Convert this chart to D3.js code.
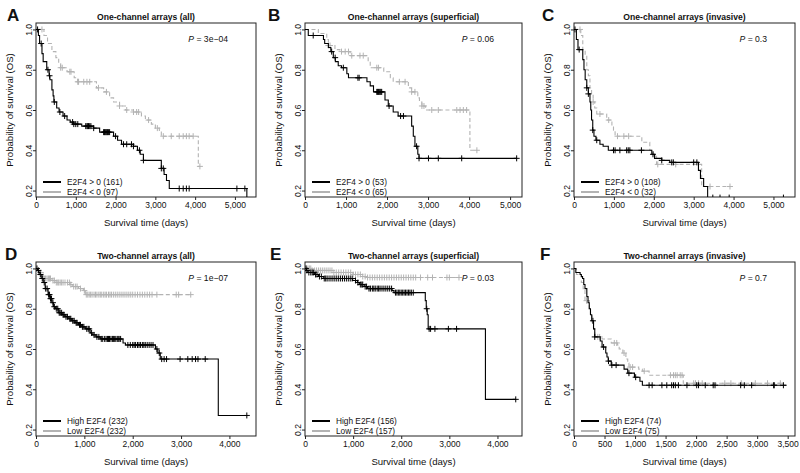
<!DOCTYPE html>
<html><head><meta charset="utf-8">
<script src="https://cdn.jsdelivr.net/npm/d3@7"></script>
<style>body{margin:0;background:#fff} svg{display:block} text{font-family:"Liberation Sans",Arial,Helvetica,sans-serif;fill:#111}</style>
</head><body><svg id="c" width="800" height="473"></svg>
<script>
// ---------------- DATA ----------------
const yTicks = [0.2, 0.4, 0.6, 0.8, 1.0];
const titles = ["One-channel arrays (all)", "One-channel arrays (superficial)", "One-channel arrays (invasive)",
  "Two-channel arrays (all)", "Two-channel arrays (superficial)", "Two-channel arrays (invasive)"];
const letters = ["A", "B", "C", "D", "E", "F"];
const pValues = ["3e\u221204", "0.06", "0.3", "1e\u221207", "0.03", "0.7"];
const xMax = [5530, 5290, 5540, 4550, 4510, 3620];
const xTicksOne = [0, 1000, 2000, 3000, 4000, 5000];
const xTicksTwo = [0, 1000, 2000, 3000, 4000];
const xTicksF = [0, 500, 1000, 1500, 2000, 2500, 3000, 3500];
const legendOne = [["E2F4 > 0 (161)", "E2F4 < 0 (97)"], ["E2F4 > 0 (53)", "E2F4 < 0 (65)"], ["E2F4 > 0 (108)", "E2F4 < 0 (32)"]];
const legendTwo = [["High E2F4 (232)", "Low E2F4 (232)"], ["High E2F4 (156)", "Low E2F4 (157)"], ["High E2F4 (74)", "Low E2F4 (75)"]];

// Kaplan-Meier steps [time (days), survival]; censor times; end time
const aHiSteps = [[0,1],[60,0.97],[90,0.93],[150,0.88],[180,0.84],[270,0.80],[330,0.77],[350,0.75],[400,0.70],[430,0.67],[450,0.64],[520,0.61],[580,0.59],[680,0.57],[780,0.55],[860,0.54],[950,0.53],[1150,0.52],[1450,0.51],[1600,0.49],[1950,0.47],[2050,0.45],[2150,0.43],[2450,0.42],[2550,0.40],[2620,0.38],[2700,0.35],[3150,0.31],[3220,0.28],[3280,0.25],[3350,0.21],[5300,0.0]];
const aHiCens = [40,130,300,340,460,600,720,920,950,1000,1050,1250,1280,1300,1320,1350,1380,1450,1700,1720,1740,1760,1780,1800,1820,1850,2000,2200,2280,2400,2450,2600,2700,3150,3200,3600,3700,3780,3850,5050,5250];
const aLoSteps = [[0,1],[200,0.97],[290,0.93],[400,0.89],[500,0.86],[570,0.83],[620,0.81],[780,0.79],[960,0.76],[1050,0.74],[1520,0.71],[1700,0.69],[1850,0.66],[1950,0.64],[2100,0.62],[2250,0.60],[2450,0.59],[2650,0.57],[2750,0.55],[2900,0.53],[3000,0.51],[3100,0.49],[3150,0.47],[4080,0.32]];
const aLoCens = [150,620,660,850,880,1050,1070,1200,1280,1350,1570,1770,2100,2280,2450,2530,2580,2830,3050,3200,3400,3600,3700,3780,3850,3950,4120];

const bHiSteps = [[0,1],[80,0.97],[450,0.95],[480,0.93],[570,0.91],[630,0.89],[690,0.86],[740,0.84],[810,0.82],[890,0.81],[1020,0.78],[1060,0.76],[1510,0.74],[1590,0.72],[1670,0.69],[1950,0.65],[2030,0.62],[2150,0.59],[2270,0.57],[2600,0.52],[2640,0.47],[2680,0.42],[2750,0.38],[2780,0.36]];
const bHiCens = [200,650,735,935,1290,1320,1750,1770,1790,1810,1830,1850,1870,2050,2330,2400,2720,2780,3010,3250,3820,5160];
const bLoSteps = [[0,1],[325,0.98],[530,0.95],[570,0.92],[730,0.90],[850,0.89],[1100,0.87],[1540,0.84],[1590,0.81],[1920,0.79],[2080,0.76],[2150,0.74],[2520,0.71],[2600,0.69],[2750,0.66],[2790,0.64],[2850,0.62],[2940,0.60],[4020,0.40]];
const bLoCens = [570,610,890,980,1060,1140,1340,1420,1750,1790,2300,2440,2600,2680,2850,2900,3090,3250,3700,3780,3860,3940,4190];

const cHiSteps = [[0,1],[60,0.95],[100,0.90],[220,0.85],[250,0.80],[280,0.75],[320,0.71],[360,0.68],[400,0.64],[420,0.60],[440,0.55],[470,0.50],[500,0.47],[550,0.45],[650,0.43],[730,0.42],[860,0.40],[1950,0.38],[2020,0.36],[2200,0.35],[2400,0.34],[3120,0.30],[3170,0.26],[3250,0.22],[3350,0.165]];
const cHiCens = [25,130,320,360,470,570,990,1030,1150,1320,1360,1400,1690,1980,2200,2450,2490,3000,3080,3480,3660,3890,5250];
const cLoSteps = [[0,1],[170,0.97],[220,0.90],[280,0.87],[320,0.80],[360,0.77],[400,0.71],[440,0.68],[480,0.64],[520,0.61],[570,0.58],[820,0.55],[950,0.52],[990,0.50],[1030,0.47],[1700,0.44],[1900,0.40],[1990,0.37],[2070,0.33],[3200,0.22]];
const cLoCens = [150,480,650,870,1090,1250,1370,2100,2550,3410,3910];

const dHiSteps = [[0,1],[30,0.99],[60,0.98],[80,0.97],[120,0.95],[150,0.93],[190,0.90],[250,0.87],[290,0.85],[330,0.83],[360,0.81],[400,0.80],[470,0.78],[540,0.77],[600,0.76],[680,0.75],[740,0.74],[810,0.73],[880,0.72],[950,0.71],[1020,0.70],[1120,0.68],[1160,0.67],[1240,0.66],[1330,0.65],[1800,0.63],[1850,0.62],[2470,0.60],[2520,0.58],[2570,0.55],[3770,0.27]];
const dHiCens = [20,50,90,130,170,200,230,260,280,300,320,350,380,420,450,480,500,530,560,580,620,650,700,720,760,790,830,850,900,920,960,990,1050,1080,1100,1150,1200,1260,1300,1350,1380,1420,1450,1480,1500,1520,1550,1580,1600,1620,1650,1680,1700,1720,1750,1900,1950,2000,2030,2060,2100,2130,2160,2200,2230,2260,2300,2340,2380,2420,2500,2550,2600,2650,2700,2980,3140,3230,3300,3350,3500,4360];
const dLoSteps = [[0,1],[50,0.98],[120,0.96],[170,0.95],[330,0.94],[400,0.93],[700,0.92],[750,0.91],[880,0.90],[980,0.89],[1020,0.87]];
const dLoCens = [60,100,150,180,200,230,260,280,300,350,380,420,450,470,500,530,560,600,650,690,720,780,820,850,920,1000,1040,1070,1100,1130,1160,1200,1230,1260,1300,1330,1360,1400,1430,1460,1500,1530,1560,1600,1640,1680,1720,1760,1800,1840,1880,1920,1960,2000,2050,2100,2150,2200,2250,2300,2350,2400,2500,2900,2950,3200];

const eHiSteps = [[0,1],[30,0.99],[60,0.98],[200,0.97],[280,0.96],[380,0.95],[990,0.94],[1090,0.93],[1130,0.92],[1230,0.91],[1300,0.90],[1810,0.89],[1850,0.88],[2500,0.84],[2520,0.80],[2540,0.77],[2560,0.70],[3750,0.35]];
const eHiCens = [20,40,80,120,150,180,220,250,300,340,400,430,460,500,540,580,620,660,700,740,780,820,860,900,940,980,1050,1100,1150,1180,1200,1250,1280,1330,1360,1400,1430,1460,1500,1530,1560,1600,1640,1680,1720,1760,1800,1880,1910,1940,1970,2000,2030,2060,2090,2120,2150,2180,2210,2250,2530,2580,2610,2700,2980,3150,4380];
const eLoSteps = [[0,1],[150,0.99],[600,0.98],[1000,0.97],[1200,0.96],[1300,0.955]];
const eLoCens = [30,60,90,120,150,200,240,280,320,360,400,440,480,520,560,600,650,700,750,800,850,900,950,1000,1050,1100,1150,1200,1250,1300,1350,1400,1450,1500,1550,1600,1650,1700,1750,1800,1850,1900,1950,2000,2050,2100,2150,2200,2250,2300,2400,2550,2650,2950,3000,3200];

const fHiSteps = [[0,1],[30,0.98],[100,0.97],[120,0.96],[140,0.95],[160,0.92],[180,0.90],[210,0.86],[230,0.83],[250,0.80],[270,0.77],[290,0.74],[320,0.70],[340,0.66],[430,0.64],[460,0.61],[520,0.58],[540,0.56],[560,0.54],[610,0.52],[820,0.50],[880,0.48],[990,0.46],[1080,0.44],[1120,0.42]];
const fHiCens = [310,340,485,565,620,690,900,1010,1230,1280,1440,1520,1600,1630,1660,1710,1850,2010,2040,2150,2280,2310,2730,2790,2910,3270,3280,3430];
const fLoSteps = [[0,1],[40,0.97],[120,0.93],[150,0.90],[180,0.84],[250,0.80],[270,0.77],[300,0.73],[320,0.70],[340,0.66],[460,0.65],[610,0.63],[710,0.62],[740,0.60],[800,0.58],[850,0.55],[880,0.53],[900,0.51],[1060,0.50],[1120,0.49],[1230,0.47],[1790,0.43]];
const fLoCens = [205,390,420,660,700,820,920,960,1150,1580,1630,1660,1690,1740,1770,1960,1990,2040,2100,2470,2570,2740,2970,3170,3380];

const curveEnds = [[5300,4120],[5170,4190],[5300,3910],[4360,3220],[4380,3200],[3480,3380]];

// ---------------- LAYOUT ----------------
const colLeft = [36, 305, 574], colRight = [256, 522, 795];
const rowTop = [23, 262], plotH = 174;
const letterX = [7, 268, 542, 5, 270, 540];
const BLACK = "#000", GREY = "#b3b3b3";

const panels = [
  {hi:[aHiSteps,aHiCens], lo:[aLoSteps,aLoCens], ticks:xTicksOne, leg:legendOne[0]},
  {hi:[bHiSteps,bHiCens], lo:[bLoSteps,bLoCens], ticks:xTicksOne, leg:legendOne[1]},
  {hi:[cHiSteps,cHiCens], lo:[cLoSteps,cLoCens], ticks:xTicksOne, leg:legendOne[2]},
  {hi:[dHiSteps,dHiCens], lo:[dLoSteps,dLoCens], ticks:xTicksTwo, leg:legendTwo[0]},
  {hi:[eHiSteps,eHiCens], lo:[eLoSteps,eLoCens], ticks:xTicksTwo, leg:legendTwo[1]},
  {hi:[fHiSteps,fHiCens], lo:[fLoSteps,fLoCens], ticks:xTicksF, leg:legendTwo[2]}
];

const svg = d3.select("#c");
const fmt = d3.format(",");

function stepVal(steps, t) {
  let v = steps[0][1];
  for (const s of steps) { if (s[0] <= t) v = s[1]; else break; }
  return v;
}

panels.forEach((p, i) => {
  const col = i % 3, row = Math.floor(i / 3);
  const L = colLeft[col], R = colRight[col], T = rowTop[row], B = T + plotH;
  const x = d3.scaleLinear().domain([0, xMax[i]]).range([L, R]);
  const y = d3.scaleLinear().domain([0.168, 1.032]).range([B, T]);
  const g = svg.append("g");

  const cid = "clip" + i;
  svg.append("clipPath").attr("id", cid).append("rect")
    .attr("x", L).attr("y", T).attr("width", R - L).attr("height", B - T);

  // axes
  g.append("g").attr("transform", `translate(0,${B})`)
    .call(d3.axisBottom(x).tickValues(p.ticks).tickFormat(fmt).tickSizeOuter(0).tickSize(3).tickPadding(2))
    .call(a => { a.select(".domain").remove(); a.selectAll("line").attr("stroke", "#222");
      a.selectAll("text").attr("font-size", 8.5).attr("fill", "#111").attr("font-family", "Liberation Sans, Arial, sans-serif"); });
  const ya = g.append("g").attr("transform", `translate(${L},0)`)
    .call(d3.axisLeft(y).tickValues(yTicks).tickFormat(d3.format(".1f")).tickSizeOuter(0).tickSize(3));
  ya.select(".domain").remove();
  ya.selectAll("line").attr("stroke", "#222");
  ya.selectAll("text").attr("font-size", 8.5).attr("fill", "#111").attr("font-family", "Liberation Sans, Arial, sans-serif")
    .attr("x", null).attr("dy", null).attr("text-anchor", "middle")
    .attr("transform", "translate(-7,0) rotate(-90)").attr("y", 0).attr("dy", "0.32em");

  // box
  g.append("rect").attr("x", L).attr("y", T).attr("width", R - L).attr("height", B - T)
    .attr("fill", "none").attr("stroke", "#222").attr("stroke-width", 1);

  // curves
  const line = d3.line().x(d => x(d[0])).y(d => y(d[1])).curve(d3.curveStepAfter);
  const plot = g.append("g").attr("clip-path", `url(#${cid})`);
  [[p.lo, GREY, "4,2.5", 1], [p.hi, BLACK, null, 0]].forEach(([ser, color, dash, k]) => {
    const steps = ser[0], cens = ser[1];
    const end = curveEnds[i][k];
    const last = steps[steps.length - 1];
    const pts = steps.slice();
    if (end > last[0]) pts.push([end, last[1]]);
    plot.append("path").attr("d", line(pts)).attr("fill", "none").attr("stroke", color)
      .attr("stroke-width", 1.1).attr("stroke-dasharray", dash);
    plot.append("g").selectAll("path").data(cens).join("path")
      .attr("d", t => { const cx = x(t), cy = y(stepVal(steps, t));
        return `M${cx - 3},${cy}H${cx + 3}M${cx},${cy - 3}V${cy + 3}`; })
      .attr("stroke", color).attr("stroke-width", 1).attr("fill", "none");
  });

  // titles
  g.append("text").attr("x", (L + R) / 2).attr("y", T - 3.5).attr("text-anchor", "middle")
    .attr("font-size", 8.6).attr("font-weight", "bold").text(titles[i]);
  g.append("text").attr("x", letterX[i]).attr("y", T - 2).attr("font-size", 17).attr("font-weight", "bold").text(letters[i]);
  g.append("text").attr("x", (L + R) / 2).attr("y", B + 29).attr("text-anchor", "middle")
    .attr("font-size", 9.6).text("Survival time (days)");
  g.append("text").attr("transform", `translate(${L - 23},${(T + B) / 2}) rotate(-90)`).attr("text-anchor", "middle")
    .attr("font-size", 9.6).text("Probability of survival (OS)");

  // p-value
  const pt = g.append("text").attr("x", R - 28).attr("y", T + 19).attr("text-anchor", "end").attr("font-size", 8.6);
  pt.append("tspan").attr("font-style", "italic").text("P");
  pt.append("tspan").text(" = " + pValues[i]);

  // legend
  const ly = [B - 15, B - 5];
  [[BLACK, p.leg[0]], [GREY, p.leg[1]]].forEach(([c, lab], j) => {
    g.append("line").attr("x1", L + 7).attr("x2", L + 25).attr("y1", ly[j]).attr("y2", ly[j])
      .attr("stroke", c).attr("stroke-width", 2);
    g.append("text").attr("x", L + 31).attr("y", ly[j] + 3).attr("font-size", 8.3).text(lab);
  });
});
</script></body></html>
